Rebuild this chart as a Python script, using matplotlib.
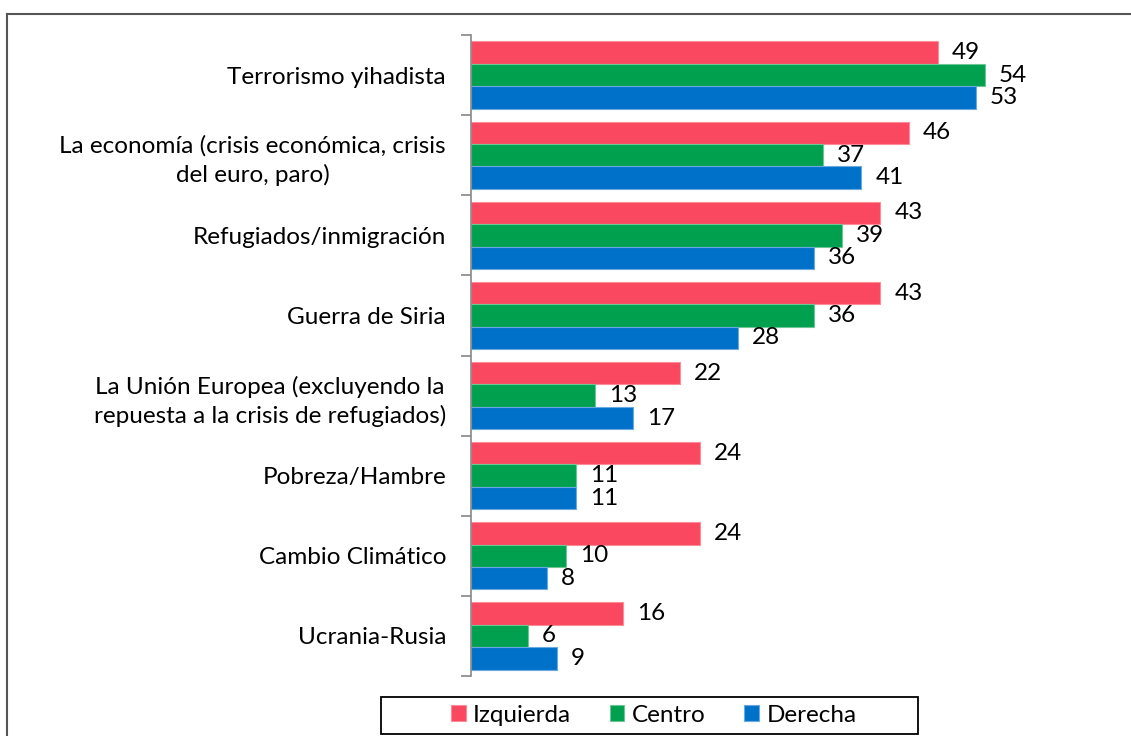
import numpy as np
import matplotlib.pyplot as plt
from matplotlib.lines import Line2D
from matplotlib.patches import Rectangle

# ---- data
categories = ['Terrorismo yihadista',
              'La economía (crisis económica, crisis\ndel euro, paro)',
              'Refugiados/inmigración',
              'Guerra de Siria',
              'La Unión Europea (excluyendo la\nrepuesta a la crisis de refugiados)',
              'Pobreza/Hambre',
              'Cambio Climático',
              'Ucrania-Rusia']
izquierda = [49, 46, 43, 43, 22, 24, 24, 16]
centro = [54, 37, 39, 36, 13, 11, 10, 6]
derecha = [53, 41, 36, 28, 17, 11, 8, 9]

series = [('Izquierda', izquierda, '#F9485F', '#FB8C9A'),
          ('Centro', centro, '#00A04F', '#6CC594'),
          ('Derecha', derecha, '#0071C9', '#6AA9E0')]

FS = 17.5

plt.rcParams['font.family'] = ['Lato', 'DejaVu Sans']

fig = plt.figure(figsize=(11.31, 7.36), dpi=100)
ax = fig.add_axes([0.4165, 0.0815, 0.505, 0.8709])

y = np.arange(len(categories))
h = 0.28
for i, (name, vals, col, edge) in enumerate(series):
    pos = y + (i - 1) * h
    bars = ax.barh(pos, vals, height=h, color=col, edgecolor=edge,
                   linewidth=0.8, label=name)
    for b, v in zip(bars, vals):
        ax.annotate(str(v), (b.get_width(), b.get_y() + b.get_height() / 2),
                    xytext=(10, 0), textcoords='offset points',
                    va='center', ha='left', fontsize=FS, color='black')

ax.set_ylim(len(categories) - 0.5, -0.5)
ax.set_xlim(0, 60)
ax.set_yticks(y)
ax.set_yticklabels(categories, fontsize=FS, multialignment='center',
                   linespacing=1.4)
ax.tick_params(axis='y', length=0, pad=18)
# tick marks between categories
ax.set_yticks(np.arange(-0.5, len(categories)), minor=True)
ax.tick_params(axis='y', which='minor', length=7, color='#888888', width=1.2)
ax.set_xticks([])
for s in ['top', 'right', 'bottom']:
    ax.spines[s].set_visible(False)
ax.spines['left'].set_color('#888888')
ax.spines['left'].set_linewidth(1.2)

leg = fig.legend(loc='center', bbox_to_anchor=(0.578, 0.0285), ncol=3,
                 fontsize=FS, frameon=False,
                 handlelength=0.6, handleheight=0.6, handletextpad=0.3,
                 columnspacing=1.6, borderpad=0.2, borderaxespad=0)
# legend box (Excel style, wider than its entries)
fig.add_artist(Rectangle((0.337, 0.003), 0.475, 0.05, transform=fig.transFigure,
                         fill=False, edgecolor='black', lw=1.3))

# outer frame (top and left visible in the reference)
fig.add_artist(Line2D([0.0065, 1.0], [0.981, 0.981], color='#555555', lw=1.5))
fig.add_artist(Line2D([0.0065, 0.0065], [0.0, 0.981], color='#555555', lw=1.5))

fig.savefig('out.png', dpi=100)
